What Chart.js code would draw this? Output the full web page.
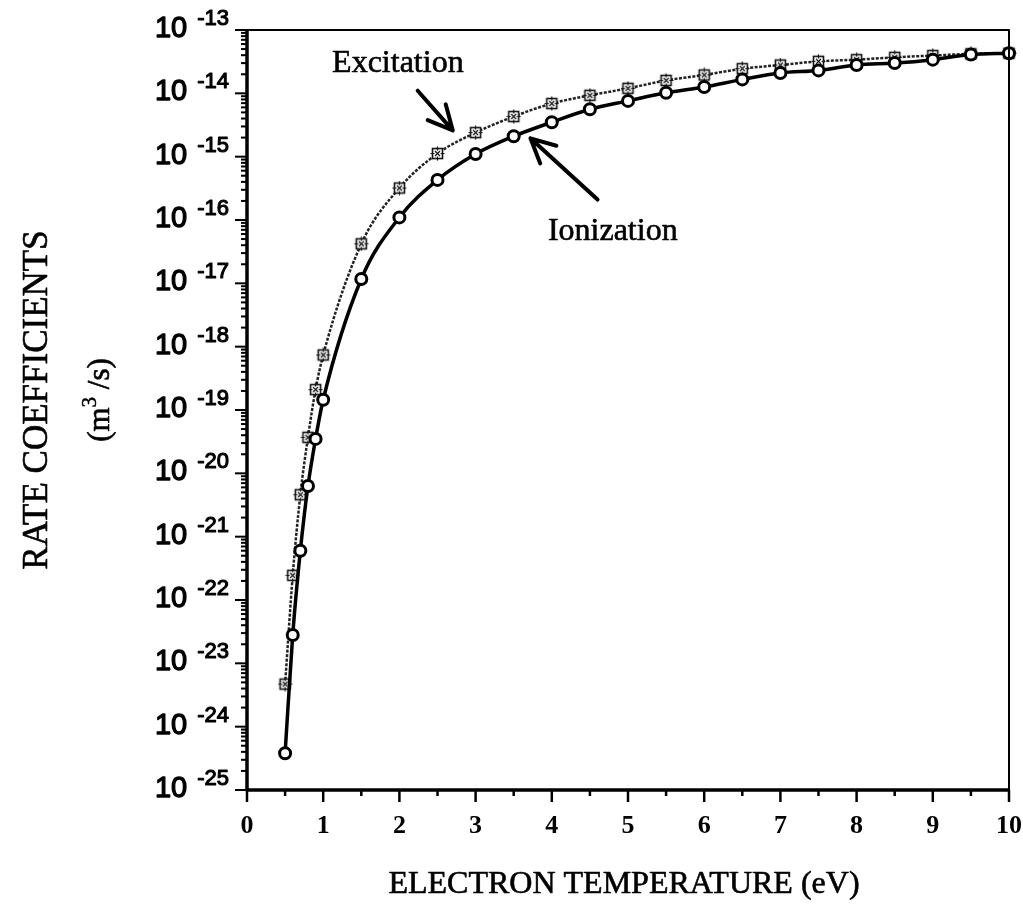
<!DOCTYPE html>
<html>
<head>
<meta charset="utf-8">
<title>Rate coefficients vs electron temperature</title>
<script src="https://cdn.jsdelivr.net/npm/chart.js@4.4.0/dist/chart.umd.min.js"></script>
<style>
  html, body { margin: 0; padding: 0; background: #fff; }
  #wrap { position: relative; width: 1023px; height: 911px; }
</style>
</head>
<body>
<div id="wrap"><canvas id="rates"></canvas></div>
<script>
// electron temperature (eV)
const temps = [0.5, 0.6, 0.7, 0.8, 0.9, 1.0, 1.5, 2.0, 2.5, 3.0, 3.5, 4.0, 4.5, 5.0, 5.5, 6.0, 6.5, 7.0, 7.5, 8.0, 8.5, 9.0, 9.5, 10.0]
// rate coefficients (m^3/s)
const ionization = [3.8e-25, 2.8e-23, 6.0e-22, 6.3e-21, 3.5e-20, 1.45e-19, 1.17e-17, 1.1e-16, 4.3e-16, 1.1e-15, 2.1e-15, 3.5e-15, 5.6e-15, 7.6e-15, 1.02e-14, 1.26e-14, 1.66e-14, 2.1e-14, 2.3e-14, 2.8e-14, 3.0e-14, 3.4e-14, 4.1e-14, 4.3e-14]
const excitation = [4.7e-24, 2.45e-22, 4.6e-21, 3.7e-20, 2.1e-19, 7.4e-19, 4.2e-17, 3.2e-16, 1.12e-15, 2.4e-15, 4.3e-15, 6.9e-15, 9.3e-15, 1.2e-14, 1.6e-14, 1.95e-14, 2.45e-14, 2.8e-14, 3.2e-14, 3.4e-14, 3.7e-14, 3.95e-14, 4.2e-14, 4.3e-14]

const xTicks = [0, 1, 2, 3, 4, 5, 6, 7, 8, 9, 10]
const yPowers = [-13, -14, -15, -16, -17, -18, -19, -20, -21, -22, -23, -24, -25]

// curve labels with their arrows, in data coordinates
const notes = [
    { text: 'Excitation', at: [1.98, 3.0e-14], tail: [2.24, 1.1e-14], tip: [2.70, 2.6e-15] },
    { text: 'Ionization', at: [4.80, 6.5e-17], tail: [4.60, 2.1e-16], tip: [3.72, 1.95e-15] }
]

const serif = '"Liberation Serif", "Times New Roman", serif'
const sans = '"Liberation Sans", Arial, sans-serif'

// little boxed star used for the excitation points
const starBox = document.createElement('canvas')
starBox.width = 15
starBox.height = 15
{
    const c = starBox.getContext('2d')
    c.fillStyle = '#fff'
    c.fillRect(2, 2, 11, 11)
    c.strokeStyle = '#111'
    c.lineWidth = 1.6
    c.strokeRect(2.5, 2.5, 10, 10)
    c.lineWidth = 1.2
    c.beginPath()
    c.moveTo(7.5, 0.5); c.lineTo(7.5, 4.5)
    c.moveTo(7.5, 10.5); c.lineTo(7.5, 14.5)
    c.moveTo(0.5, 7.5); c.lineTo(4.5, 7.5)
    c.moveTo(10.5, 7.5); c.lineTo(14.5, 7.5)
    c.moveTo(5, 5); c.lineTo(10, 10)
    c.moveTo(10, 5); c.lineTo(5, 10)
    c.stroke()
}

// filled text with a thin outline so it reads a little heavier
const heavyText = (ctx, s, x, y, w) => {
    ctx.fillText(s, x, y)
    ctx.lineWidth = w
    ctx.strokeText(s, x, y)
}

const arrow = (ctx, x0, y0, x1, y1) => {
    const ang = Math.atan2(y0 - y1, x0 - x1)
    const len = 27, spread = 0.46
    ctx.beginPath()
    ctx.moveTo(x0, y0)
    ctx.lineTo(x1, y1)
    ctx.moveTo(x1 + len * Math.cos(ang - spread), y1 + len * Math.sin(ang - spread))
    ctx.lineTo(x1, y1)
    ctx.lineTo(x1 + len * Math.cos(ang + spread), y1 + len * Math.sin(ang + spread))
    ctx.stroke()
}

// axes box, ticks, tick labels, titles and the arrow notes
const frame = {
    id: 'frame',
    afterDraw(chart) {
        const ctx = chart.ctx
        const { left, right, top, bottom } = chart.chartArea
        const sx = chart.scales.x
        const sy = chart.scales.y
        ctx.save()
        ctx.strokeStyle = '#000'
        ctx.fillStyle = '#000'
        ctx.lineCap = 'butt'
        ctx.lineJoin = 'round'

        // box
        ctx.lineWidth = 2
        ctx.beginPath()
        ctx.moveTo(left, top); ctx.lineTo(right, top); ctx.lineTo(right, bottom)
        ctx.stroke()
        ctx.lineWidth = 3.5
        ctx.beginPath()
        ctx.moveTo(left, top - 1); ctx.lineTo(left, bottom); ctx.lineTo(right + 1, bottom)
        ctx.stroke()

        // y ticks: decades long, 2..9 short
        ctx.lineWidth = 2
        yPowers.forEach((p) => {
            const y = sy.getPixelForValue(Math.pow(10, p))
            ctx.beginPath()
            ctx.moveTo(left - 12, y); ctx.lineTo(left, y)
            ctx.stroke()
            if (p > -25) {
                for (let m = 2; m <= 9; m++) {
                    const ym = sy.getPixelForValue(m * Math.pow(10, p - 1))
                    ctx.beginPath()
                    ctx.moveTo(left - 6, ym); ctx.lineTo(left, ym)
                    ctx.stroke()
                }
            }
        })

        // y labels 10^p
        yPowers.forEach((p) => {
            const y = sy.getPixelForValue(Math.pow(10, p))
            ctx.textBaseline = 'alphabetic'
            ctx.textAlign = 'right'
            ctx.font = '22px ' + sans
            const exp = '-' + String(-p)
            const ew = ctx.measureText(exp).width
            heavyText(ctx, exp, left - 18, y - 5, 1.1)
            ctx.font = '29px ' + sans
            heavyText(ctx, '10', left - 28 - ew, y + 7, 1.3)
        })

        // x ticks and labels
        ctx.lineWidth = 2.5
        xTicks.forEach((t) => {
            const x = sx.getPixelForValue(t)
            ctx.lineWidth = 2.5
            ctx.beginPath()
            ctx.moveTo(x, bottom); ctx.lineTo(x, bottom + 12)
            ctx.stroke()
            if (t < 10) {
                const xh = sx.getPixelForValue(t + 0.5)
                ctx.beginPath()
                ctx.moveTo(xh, bottom); ctx.lineTo(xh, bottom + 6)
                ctx.stroke()
            }
            ctx.font = 'bold 26px ' + serif
            ctx.textAlign = 'center'
            ctx.fillText(String(t), x, bottom + 43)
        })

        // axis titles
        ctx.font = '32px ' + serif
        ctx.textAlign = 'center'
        heavyText(ctx, 'ELECTRON TEMPERATURE (eV)', (left + right) / 2 - 4, 893, 0.6)

        ctx.save()
        ctx.translate(38, 400)
        ctx.rotate(-Math.PI / 2)
        ctx.textBaseline = 'middle'
        ctx.font = '35px ' + serif
        heavyText(ctx, 'RATE COEFFICIENTS', 0, 0, 0.6)
        ctx.restore()

        ctx.save()
        ctx.translate(101, 400)
        ctx.rotate(-Math.PI / 2)
        ctx.textBaseline = 'middle'
        ctx.textAlign = 'left'
        ctx.font = '31px ' + serif
        const a = '(m', b = ' /s)'
        const wa = ctx.measureText(a).width
        const wb = ctx.measureText(b).width
        ctx.font = '21px ' + serif
        const w3 = ctx.measureText('3').width
        const x0 = -(wa + w3 + wb) / 2
        heavyText(ctx, '3', x0 + wa, -11, 0.5)
        ctx.font = '31px ' + serif
        heavyText(ctx, a, x0, 0, 0.6)
        heavyText(ctx, b, x0 + wa + w3, 0, 0.6)
        ctx.restore()

        // notes
        notes.forEach((n) => {
            ctx.font = '32px ' + serif
            ctx.textAlign = 'center'
            ctx.textBaseline = 'middle'
            heavyText(ctx, n.text, sx.getPixelForValue(n.at[0]), sy.getPixelForValue(n.at[1]), 0.6)
            ctx.lineWidth = 4
            ctx.lineCap = 'round'
            arrow(ctx,
                sx.getPixelForValue(n.tail[0]), sy.getPixelForValue(n.tail[1]),
                sx.getPixelForValue(n.tip[0]), sy.getPixelForValue(n.tip[1]))
        })
        ctx.restore()
    }
}

const toPoints = (ys) => temps.map((t, i) => ({ x: t, y: ys[i] }))

const rateChart = new Chart(document.querySelector('canvas#rates'), {
    type: 'line',
    data: {
        datasets: [
            {
                label: 'Ionization',
                data: toPoints(ionization),
                borderColor: '#000',
                borderWidth: 3.5,
                cubicInterpolationMode: 'monotone',
                pointStyle: 'circle',
                pointRadius: 5.5,
                pointBorderWidth: 3,
                pointBorderColor: '#000',
                pointBackgroundColor: '#fff',
                clip: false,
                order: 1
            },
            {
                label: 'Excitation',
                data: toPoints(excitation),
                borderColor: '#222',
                borderWidth: 2.5,
                borderDash: [3, 1.5],
                cubicInterpolationMode: 'monotone',
                pointStyle: starBox,
                clip: false,
                order: 2
            }
        ]
    },
    options: {
        responsive: true,
        maintainAspectRatio: false,
        animation: false,
        layout: {
            padding: { left: 247, right: 14, top: 30, bottom: 121 }
        },
        scales: {
            x: { type: 'linear', min: 0, max: 10, display: false },
            y: { type: 'logarithmic', min: 1e-25, max: 1e-13, display: false }
        },
        plugins: {
            legend: { display: false },
            tooltip: { enabled: false }
        }
    },
    plugins: [frame]
})
</script>
</body>
</html>
